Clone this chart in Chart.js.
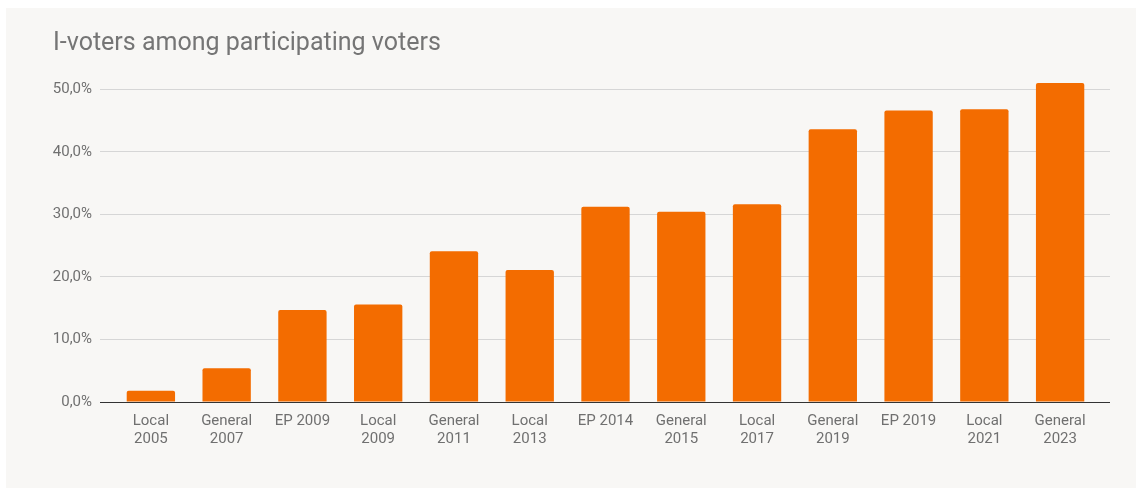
<!DOCTYPE html>
<html>
<head>
<meta charset="utf-8">
<script src="https://cdn.jsdelivr.net/npm/chart.js@4.4.0/dist/chart.umd.min.js"></script>
<style>
  html, body { margin: 0; padding: 0; background: #ffffff; }
  #wrap { width: 1136px; height: 488px; position: relative; }
</style>
</head>
<body>
<div id="wrap"><canvas id="c" width="1136" height="488"></canvas></div>
<script>
const titleText = "I-voters among participating voters";
const categories = [
  ["Local", "2005"], ["General", "2007"], "EP 2009", ["Local", "2009"],
  ["General", "2011"], ["Local", "2013"], "EP 2014", ["General", "2015"],
  ["Local", "2017"], ["General", "2019"], "EP 2019", ["Local", "2021"],
  ["General", "2023"]
];
const ivoterShare = [1.8, 5.4, 14.7, 15.6, 24.1, 21.1, 31.2, 30.4, 31.6, 43.6, 46.6, 46.8, 51.0];
const yTicks = [0, 10, 20, 30, 40, 50];

const cardBg = {
  id: 'cardBg',
  beforeDraw(chart) {
    const c = chart.ctx;
    c.save();
    c.fillStyle = '#ffffff';
    c.fillRect(0, 0, chart.width, chart.height);
    c.fillStyle = '#f8f7f5';
    c.fillRect(6, 8, chart.width - 6, chart.height - 8);
    c.restore();
  }
};

// inset the category band inside the gridline area (as in the reference)
const insetX = {
  id: 'insetX',
  afterLayout(chart) {
    const s = chart.scales.x;
    s.left += 13;
    s.right -= 12;
    s.width = s.right - s.left;
    s.configure();
  }
};

Chart.defaults.font.family = 'Roboto, "Noto Sans", sans-serif';
Chart.defaults.color = '#707070';

new Chart(document.getElementById('c'), {
  type: 'bar',
  data: {
    labels: categories,
    datasets: [{
      label: 'I-voters',
      data: ivoterShare,
      backgroundColor: '#f36c00',
      borderRadius: 2,
      borderSkipped: 'bottom',
      barPercentage: 0.638,
      categoryPercentage: 1.0
    }]
  },
  options: {
    responsive: false,
    animation: false,
    devicePixelRatio: 1,
    layout: { padding: { left: 53, right: 26, top: 30, bottom: 0 } },
    plugins: {
      legend: { display: false },
      tooltip: { enabled: false },
      title: {
        display: true,
        text: titleText,
        align: 'start',
        color: '#757575',
        font: { size: 25, weight: 'normal', lineHeight: 1.12 },
        padding: { top: 0, bottom: 0 }
      }
    },
    scales: {
      x: {
        grid: { display: false },
        border: { display: false },
        ticks: {
          color: '#707070',
          font: { size: 15, lineHeight: 1.23 },
          padding: 2,
          maxRotation: 0,
          autoSkip: false
        },
        afterFit(scale) { scale.height = 86; }
      },
      y: {
        min: 0,
        max: 55,
        border: { display: false },
        grid: {
          drawTicks: false,
          color: (ctx) => (ctx.tick && ctx.tick.value === 0) ? '#333333' : '#d6d6d6',
          lineWidth: 1
        },
        ticks: {
          stepSize: 10,
          padding: 8,
          color: '#707070',
          font: { size: 15 },
          callback: (v) => v.toFixed(1).replace('.', ',') + '%'
        },
        afterBuildTicks(scale) {
          scale.ticks = yTicks.map(v => ({ value: v }));
        },
        afterFit(scale) { scale.width = 47; }
      }
    }
  },
  plugins: [cardBg, insetX]
});
</script>
</body>
</html>
